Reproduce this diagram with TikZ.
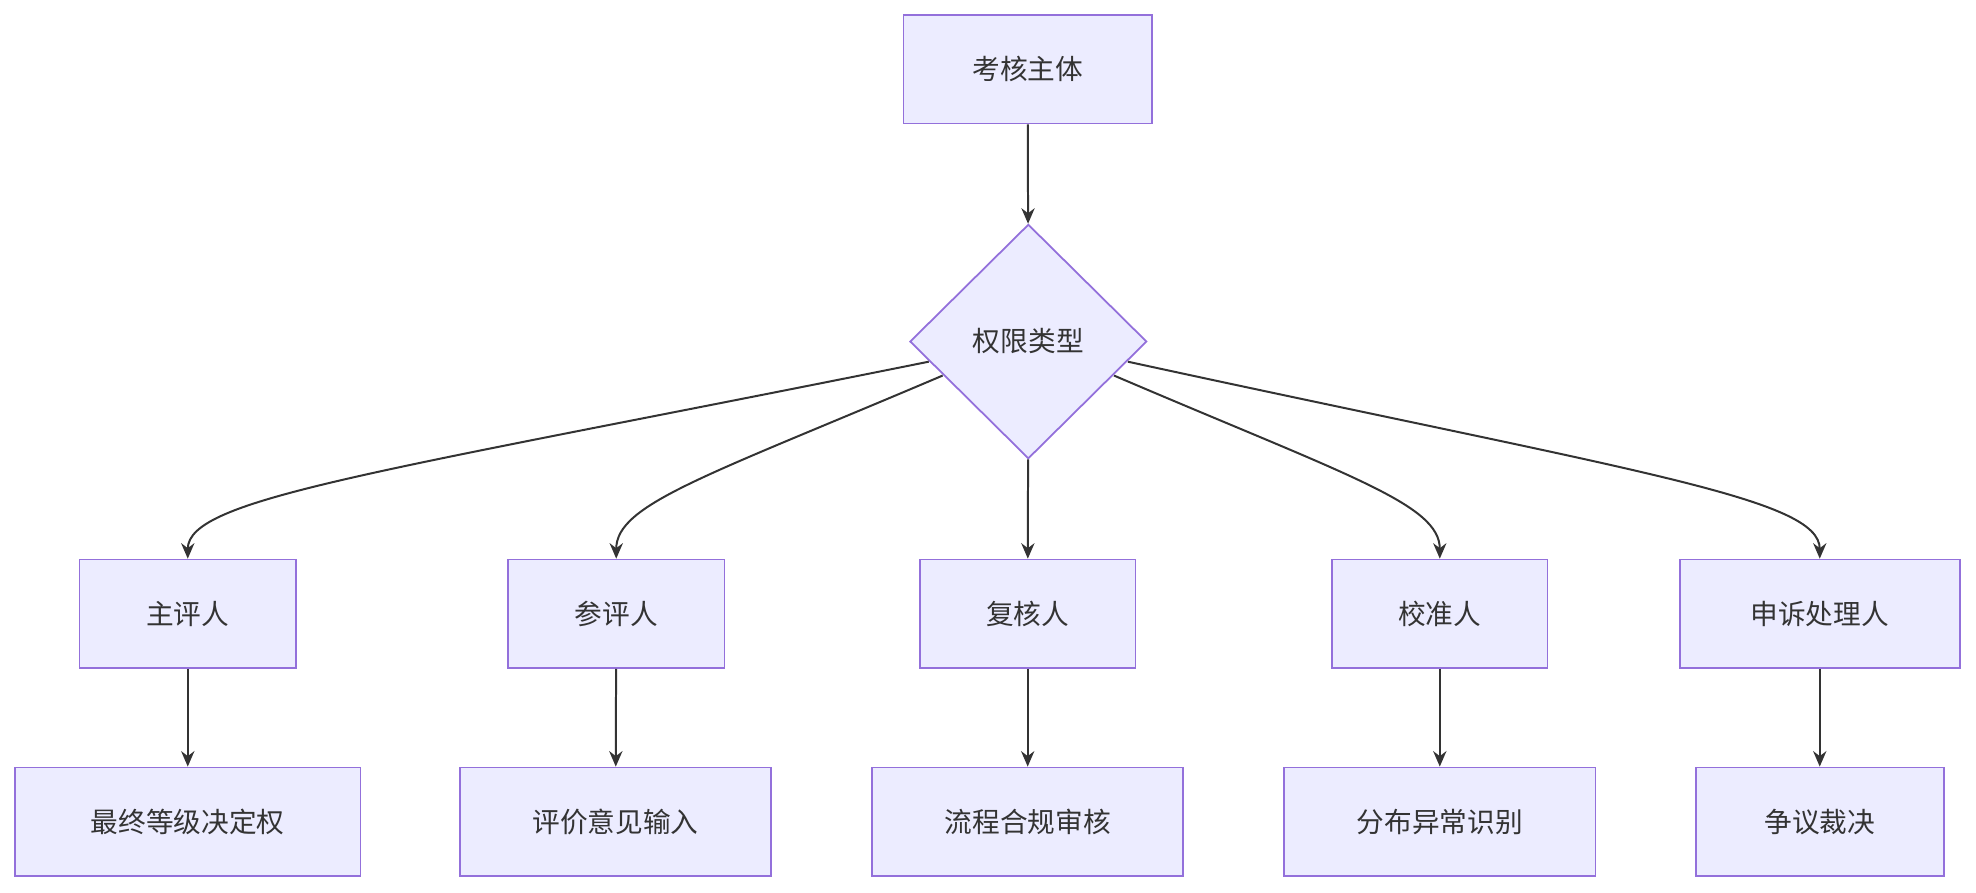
\documentclass[tikz,border=0pt]{standalone}
\usepackage{fontspec}
\setmainfont{Noto Sans CJK SC}
\usetikzlibrary{shapes.geometric,arrows.meta}
\definecolor{nfill}{HTML}{ECECFF}
\definecolor{nbord}{HTML}{9370DB}
\definecolor{ln}{HTML}{333333}
\begin{document}
\begin{tikzpicture}[x=0.02cm,y=-0.02cm,
 box/.style={draw=nbord,fill=nfill,line width=0.8pt,minimum height=1.72cm,text=ln,font=\fontsize{12.5}{15}\selectfont,inner sep=0pt},
 dia/.style={diamond,draw=nbord,fill=nfill,line width=0.8pt,minimum width=3.76cm,minimum height=3.72cm,inner sep=0pt,text=ln,font=\fontsize{12.5}{15}\selectfont},
 arr/.style={draw=ln,line width=0.9pt,-{Stealth[length=7pt,width=6pt]}}]
\useasboundingbox (0,0) rectangle (1568,708);
\node[box,minimum width=3.94cm] (top) at (815.5,55) {考核主体};
\node[dia] (d) at (816,271) {权限类型};
\node[box,minimum width=3.44cm] (a1) at (149,487) {主评人};
\node[box,minimum width=3.44cm] (a2) at (489,487) {参评人};
\node[box,minimum width=3.42cm] (a3) at (815.5,487) {复核人};
\node[box,minimum width=3.42cm] (a4) at (1142.5,487) {校准人};
\node[box,minimum width=4.44cm] (a5) at (1444,487) {申诉处理人};
\node[box,minimum width=5.48cm] (b1) at (149,652) {最终等级决定权};
\node[box,minimum width=4.94cm] (b2) at (488.5,652) {评价意见输入};
\node[box,minimum width=4.94cm] (b3) at (815.5,652) {流程合规审核};
\node[box,minimum width=4.94cm] (b4) at (1142.5,652) {分布异常识别};
\node[box,minimum width=3.94cm] (b5) at (1444,652) {争议裁决};
\coordinate (p1) at (737,287);
\coordinate (p2) at (748,298);
\coordinate (p4) at (884,298);
\coordinate (p5) at (895,287);
\draw[arr] (top) -- (d);
\draw[arr] (p1) .. controls (300,375) and (149,395) .. (a1.north);
\draw[arr] (p2) .. controls (560,378) and (489,400) .. (a2.north);
\draw[arr] (d) -- (a3);
\draw[arr] (p4) .. controls (1071,378) and (1142.5,400) .. (a4.north);
\draw[arr] (p5) .. controls (1300,375) and (1444,395) .. (a5.north);
\foreach \i in {1,...,5} \draw[arr] (a\i) -- (b\i);
\end{tikzpicture}
\end{document}
